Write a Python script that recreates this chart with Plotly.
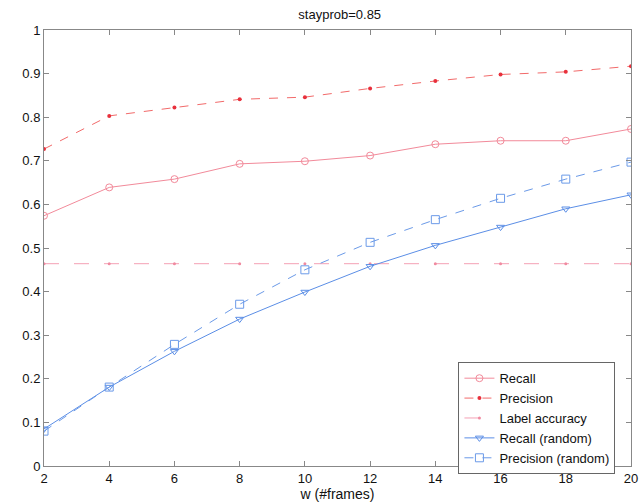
import plotly.graph_objects as go

w = [2, 4, 6, 8, 10, 12, 14, 16, 18, 20]
recall = [0.574, 0.639, 0.658, 0.693, 0.699, 0.712, 0.738, 0.746, 0.746, 0.773]
precision = [0.727, 0.803, 0.822, 0.841, 0.846, 0.866, 0.883, 0.898, 0.904, 0.917]
label_acc = [0.464, 0.464, 0.464, 0.464, 0.464, 0.464, 0.464, 0.464, 0.464, 0.464]
recall_rand = [0.085, 0.181, 0.263, 0.337, 0.399, 0.458, 0.506, 0.548, 0.590, 0.622]
precision_rand = [0.080, 0.181, 0.279, 0.371, 0.450, 0.513, 0.565, 0.614, 0.658, 0.697]

xticks = [2, 4, 6, 8, 10, 12, 14, 16, 18, 20]
yticks = [0, 0.1, 0.2, 0.3, 0.4, 0.5, 0.6, 0.7, 0.8, 0.9, 1]
ytick_text = ["0", "0.1", "0.2", "0.3", "0.4", "0.5", "0.6", "0.7", "0.8", "0.9", "1"]

fig = go.Figure()
fig.add_trace(go.Scatter(x=w, y=recall, name="Recall", mode="lines+markers",
                         line=dict(color="#f28a9a", width=1),
                         marker=dict(symbol="circle-open", size=7, color="#f28a9a")))
fig.add_trace(go.Scatter(x=w, y=precision, name="Precision", mode="lines+markers",
                         line=dict(color="#f26a6a", width=1, dash="dash"),
                         marker=dict(symbol="circle", size=4, color="#e8303c")))
fig.add_trace(go.Scatter(x=w, y=label_acc, name="Label accuracy", mode="lines+markers",
                         line=dict(color="#f4a0b4", width=1, dash="longdash"),
                         marker=dict(symbol="circle", size=3, color="#f08aa0")))
fig.add_trace(go.Scatter(x=w, y=recall_rand, name="Recall (random)", mode="lines+markers",
                         line=dict(color="#5b8ee6", width=1),
                         marker=dict(symbol="triangle-down-open", size=7, color="#5b8ee6")))
fig.add_trace(go.Scatter(x=w, y=precision_rand, name="Precision (random)", mode="lines+markers",
                         line=dict(color="#6b9ae8", width=1, dash="dash"),
                         marker=dict(symbol="square-open", size=8, color="#6b9ae8")))

axis_common = dict(showgrid=False, zeroline=False, showline=True, linecolor="#888888",
                   linewidth=1, mirror="ticks", ticks="inside", ticklen=5,
                   tickcolor="#888888", ticklabeloverflow="allow",
                   tickfont=dict(family="Liberation Sans", size=13, color="#111111"))

fig.update_layout(
    width=641, height=502,
    margin=dict(l=44, r=3, t=30, b=36),
    paper_bgcolor="white", plot_bgcolor="white",
    title=dict(text="stayprob=0.85", x=0.53, xanchor="center", y=0.972, yanchor="middle",
               font=dict(family="Liberation Sans", size=13, color="#111111")),
    xaxis=dict(range=[2, 20], tickvals=xticks, ticktext=[str(v) for v in xticks],
               title=dict(text="w (#frames)", standoff=2,
                          font=dict(family="Liberation Sans", size=14, color="#111111")),
               **axis_common),
    yaxis=dict(range=[0, 1], tickvals=yticks, ticktext=ytick_text, **axis_common),
    legend=dict(x=0.706, y=0.238, xanchor="left", yanchor="top",
                bgcolor="white", bordercolor="#666666", borderwidth=1,
                font=dict(family="Liberation Sans", size=13, color="#111111"),
                tracegroupgap=0, itemwidth=30),
    showlegend=True,
)

fig.write_html("out.html")
